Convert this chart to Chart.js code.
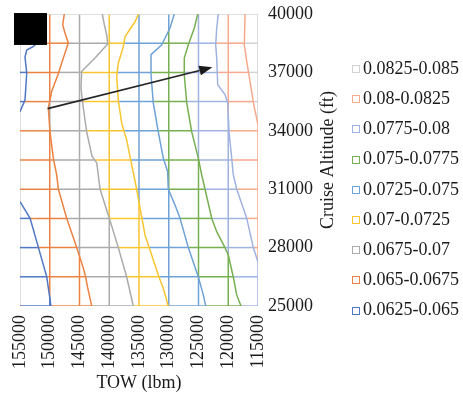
<!DOCTYPE html>
<html>
<head>
<meta charset="utf-8">
<script src="https://cdn.jsdelivr.net/npm/chart.js@4"></script>
<style>
  html, body { margin: 0; padding: 0; background: #fff; }
  #wrap { width: 463px; height: 394px; }
</style>
</head>
<body>
<div id="wrap"><canvas id="chart"></canvas></div>
<script>
// bands, lowest to highest (legend is drawn highest first)
const bandLabels = ['0.0625-0.065', '0.065-0.0675', '0.0675-0.07', '0.07-0.0725', '0.0725-0.075',
                    '0.075-0.0775', '0.0775-0.08', '0.08-0.0825', '0.0825-0.085'];
const bandColors = ['#5077C4', '#EC8343', '#ABABAB', '#F9C530', '#6FA2D6',
                    '#77B052', '#A0B2E0', '#F5AA8E', '#D2D2D2'];
const edgeColor = '#D6D6D6';

// mesh of the surface
const towGrid = [155000, 150000, 145000, 140000, 135000, 130000, 125000, 120000, 115000];
const altGrid = [25000, 26500, 28000, 29500, 31000, 32500, 34000, 35500, 37000, 38500, 40000];

// contour lines [TOW, altitude]
const c065Low = [[149800, 25000], [150500, 26500], [151900, 28000], [153300, 29500], [155000, 30360]];
const c065High = [[155000, 34980], [154160, 35580], [153870, 36970], [154160, 37790], [153870, 38150],
                  [152820, 38320], [152140, 38500], [150800, 39180]];
const c0675 = [[147550, 40000], [147820, 39450], [147440, 39020], [146880, 38510], [147720, 37740],
               [148560, 36930], [149670, 36030], [150240, 35170], [149960, 33940], [149400, 32600],
               [148830, 31730], [148560, 31010], [147150, 29510], [145470, 28000], [144360, 26950],
               [143960, 26490], [143620, 25930], [142950, 25000]];
const c070 = [[141170, 40000], [140830, 39450], [140430, 38940], [140260, 38460], [142390, 37740],
              [144630, 37060], [144750, 36200], [144360, 35170], [143790, 33940], [142900, 32700],
              [142100, 32350], [141550, 31010], [139990, 29510], [138480, 28000], [137070, 26490],
              [135960, 25000]];
const c0725 = [[135080, 40000], [135670, 39600], [136800, 39090], [137350, 38830], [137640, 38320],
               [138480, 37470], [138750, 36780], [138480, 35580], [137910, 34390], [137070, 33530],
               [136510, 32670], [135390, 31010], [134830, 30040], [133990, 28650], [132870, 27620],
               [131760, 26590], [130920, 25910], [130080, 25000]];
const c075 = [[129070, 40000], [129790, 39280], [131180, 38420], [132980, 37910], [132980, 36880],
              [132600, 35430], [131760, 33940], [130920, 32600], [130180, 31900], [130080, 31010],
              [128950, 30190], [128110, 29510], [126710, 28000], [125030, 26490], [124190, 25570],
              [123790, 25000]];
const c0775 = [[125130, 40000], [125700, 39280], [126710, 38420], [127390, 37740], [127390, 36880],
               [126980, 35430], [126140, 33940], [125030, 32600], [124460, 31730], [123910, 31010],
               [122780, 29510], [121940, 28820], [120550, 28000], [119990, 27620], [119150, 26490],
               [118580, 25570], [117860, 25000]];
const c080 = [[121670, 40000], [121940, 39280], [122110, 38420], [121940, 37740], [121770, 36370],
              [120550, 35860], [120090, 35430], [119870, 33940], [119420, 32600], [119150, 31730],
              [118580, 31010], [116900, 29510], [115790, 28000], [115000, 27260]];
const c0825 = [[117180, 40000], [117300, 38420], [116900, 37570], [116340, 36540], [115770, 35430],
               [115000, 34300]];

// annotations
const arrowFrom = [150350, 35140];
const arrowTo = [122680, 37260];
const maskCorners = [[156010, 40050], [150460, 38410]];

const contourPieces = [[c065Low, c065High], [c0675], [c070], [c0725], [c075], [c0775], [c080], [c0825]];

// TOW of a contour piece at altitude a, null if the piece doesn't reach it
function towAt(piece, a) {
  for (let i = 0; i < piece.length - 1; i++) {
    const [t0, a0] = piece[i], [t1, a1] = piece[i + 1];
    if (a0 !== a1 && (a - a0) * (a - a1) <= 0) return t0 + (t1 - t0) * (a - a0) / (a1 - a0);
  }
  return null;
}

// contour TOW at altitude; outside its range use the nearest end (where it leaves the plot)
function contourTow(k, a) {
  let best = null, bestD = Infinity;
  for (const piece of contourPieces[k]) {
    const t = towAt(piece, a);
    if (t !== null) return t;
    for (const p of [piece[0], piece[piece.length - 1]]) {
      const d = Math.abs(p[1] - a);
      if (d < bestD) { bestD = d; best = p[0]; }
    }
  }
  return best;
}

function bandAt(t, a) {
  let n = 0;
  for (let k = 0; k < contourPieces.length; k++) if (contourTow(k, a) > t) n++;
  return n;
}

function uniq(arr) {
  return arr.filter((v, i) => i === 0 || Math.abs(v - arr[i - 1]) > 1e-6);
}

function gridDataset(points, colors) {
  return {
    data: points,
    showLine: true,
    pointRadius: 0,
    borderWidth: 1.5,
    borderColor: colors[0],
    segment: { borderColor: c => colors[c.p0DataIndex] },
    order: 2
  };
}

const datasets = [];

// contour lines on top
contourPieces.forEach((pieces, k) => {
  pieces.forEach(piece => {
    datasets.push({
      data: piece.map(p => ({ x: p[0], y: p[1] })),
      showLine: true,
      pointRadius: 0,
      borderWidth: 1.5,
      borderColor: bandColors[k],
      order: 1
    });
  });
});

// horizontal mesh lines, split where contours cross
altGrid.forEach(a => {
  if (a === 40000) {
    datasets.push(gridDataset([{ x: 155000, y: a }, { x: 115000, y: a }], [edgeColor]));
    return;
  }
  let ts = [155000, 115000];
  contourPieces.forEach(pieces => pieces.forEach(piece => {
    const t = towAt(piece, a);
    if (t !== null) ts.push(t);
  }));
  ts = uniq(ts.sort((p, q) => q - p));
  const colors = [];
  for (let i = 0; i < ts.length - 1; i++) colors.push(bandColors[bandAt((ts[i] + ts[i + 1]) / 2, a)]);
  datasets.push(gridDataset(ts.map(t => ({ x: t, y: a })), colors));
});

// vertical mesh lines
towGrid.forEach(t => {
  if (t === 155000) {
    datasets.push(gridDataset([{ x: t, y: 25000 }, { x: t, y: 40000 }], [edgeColor]));
    return;
  }
  let as = [25000, 40000];
  contourPieces.forEach(pieces => pieces.forEach(piece => {
    for (let i = 0; i < piece.length - 1; i++) {
      const [t0, a0] = piece[i], [t1, a1] = piece[i + 1];
      if (t0 !== t1 && (t0 - t) * (t1 - t) <= 0) as.push(a0 + (a1 - a0) * (t - t0) / (t1 - t0));
    }
  }));
  as = uniq(as.sort((p, q) => p - q));
  const colors = [];
  for (let i = 0; i < as.length - 1; i++) colors.push(bandColors[bandAt(t, (as[i] + as[i + 1]) / 2)]);
  datasets.push(gridDataset(as.map(a => ({ x: t, y: a })), colors));
});

const overlayPlugin = {
  id: 'overlay',
  afterDraw(chart) {
    const { ctx, chartArea } = chart;
    const xs = chart.scales.x, ys = chart.scales.y;

    // arrow
    const x0 = xs.getPixelForValue(arrowFrom[0]), y0 = ys.getPixelForValue(arrowFrom[1]);
    const x1 = xs.getPixelForValue(arrowTo[0]), y1 = ys.getPixelForValue(arrowTo[1]);
    const ang = Math.atan2(y1 - y0, x1 - x0);
    const headLen = 13, headHalf = 5;
    const bx = x1 - headLen * Math.cos(ang), by = y1 - headLen * Math.sin(ang);
    ctx.save();
    ctx.strokeStyle = '#262626';
    ctx.fillStyle = '#1a1a1a';
    ctx.lineWidth = 1.6;
    ctx.beginPath();
    ctx.moveTo(x0, y0);
    ctx.lineTo(bx, by);
    ctx.stroke();
    ctx.beginPath();
    ctx.moveTo(x1, y1);
    ctx.lineTo(bx + headHalf * Math.sin(ang), by - headHalf * Math.cos(ang));
    ctx.lineTo(bx - headHalf * Math.sin(ang), by + headHalf * Math.cos(ang));
    ctx.closePath();
    ctx.fill();

    // black block at top left
    const mx0 = xs.getPixelForValue(maskCorners[0][0]), my0 = ys.getPixelForValue(maskCorners[0][1]);
    const mx1 = xs.getPixelForValue(maskCorners[1][0]), my1 = ys.getPixelForValue(maskCorners[1][1]);
    ctx.fillStyle = '#000';
    ctx.fillRect(mx0, my0, mx1 - mx0, my1 - my0);

    // y axis title, reading bottom to top
    ctx.font = '18px "Liberation Serif"';
    ctx.fillStyle = '#1a1a1a';
    ctx.textAlign = 'center';
    ctx.textBaseline = 'middle';
    ctx.translate(chartArea.right + 70, (chartArea.top + chartArea.bottom) / 2);
    ctx.rotate(-Math.PI / 2);
    ctx.fillText('Cruise Altitude (ft)', 0, 0);
    ctx.restore();

    // legend, highest band first
    ctx.save();
    ctx.font = '18px "Liberation Serif"';
    ctx.textAlign = 'left';
    ctx.textBaseline = 'middle';
    ctx.lineWidth = 1;
    const lx = chartArea.right + 94;
    for (let i = 0; i < bandLabels.length; i++) {
      const k = bandLabels.length - 1 - i;
      const cy = 69 + i * 30.2;
      ctx.strokeStyle = bandColors[k];
      ctx.strokeRect(Math.round(lx) + 0.5, Math.round(cy - 4) + 0.5, 7, 7);
      ctx.fillStyle = '#1a1a1a';
      ctx.fillText(bandLabels[k], lx + 11, cy);
    }
    ctx.restore();
  }
};

Chart.defaults.font.family = '"Liberation Serif", "Times New Roman", serif';
Chart.defaults.font.size = 18;
Chart.defaults.color = '#1a1a1a';

new Chart(document.getElementById('chart'), {
  type: 'scatter',
  data: { datasets },
  options: {
    responsive: true,
    maintainAspectRatio: false,
    animation: false,
    layout: { padding: { left: 20, top: 14, right: 119, bottom: 0 } },
    plugins: { legend: { display: false }, tooltip: { enabled: false } },
    scales: {
      x: {
        type: 'linear',
        reverse: true,
        min: 115000,
        max: 155000,
        grid: { display: false, drawTicks: false },
        border: { display: false },
        ticks: {
          stepSize: 5000,
          autoSkip: false,
          minRotation: 90,
          maxRotation: 90,
          padding: 9,
          callback: v => String(v)
        },
        title: { display: true, text: 'TOW (lbm)', padding: { top: 0, bottom: 0 } },
        afterFit: s => { s.height = 88; s.paddingLeft = 0; s.paddingRight = 0; }
      },
      y: {
        type: 'linear',
        position: 'right',
        min: 25000,
        max: 40000,
        grid: { display: false, drawTicks: false },
        border: { display: false },
        ticks: { stepSize: 3000, autoSkip: false, padding: 10, callback: v => String(v) },
        afterFit: s => { s.width = 86; s.paddingTop = 0; s.paddingBottom = 0; }
      }
    }
  },
  plugins: [overlayPlugin]
});
</script>
</body>
</html>
